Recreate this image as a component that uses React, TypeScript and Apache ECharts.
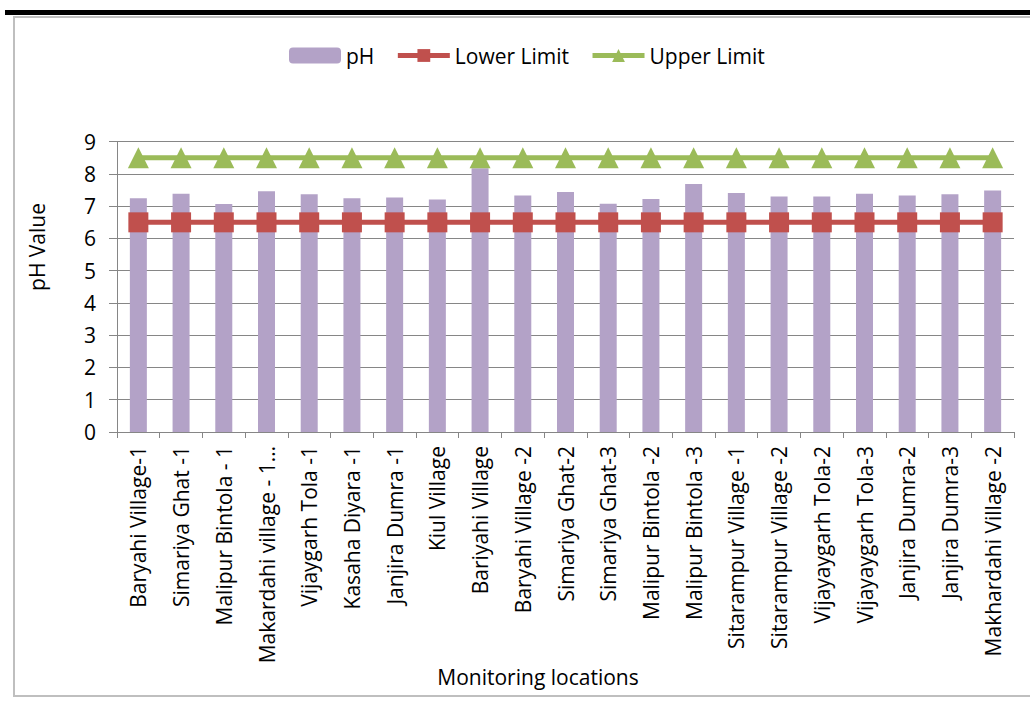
import React, { useEffect, useRef } from "react";
import * as echarts from "echarts";

const categories = [
  "Baryahi Village-1",
  "Simariya Ghat -1",
  "Malipur Bintola - 1",
  "Makardahi village - 1…",
  "Vijaygarh Tola -1",
  "Kasaha Diyara -1",
  "Janjira Dumra -1",
  "Kiul Village",
  "Bariyahi Village",
  "Baryahi Village -2",
  "Simariya Ghat-2",
  "Simariya Ghat-3",
  "Malipur Bintola -2",
  "Malipur Bintola -3",
  "Sitarampur Village -1",
  "Sitarampur Village -2",
  "Vijayaygarh Tola-2",
  "Vijayaygarh Tola-3",
  "Janjira Dumra-2",
  "Janjira Dumra-3",
  "Makhardahi Village -2",
];

const phValues = [
  7.25, 7.39, 7.07, 7.46, 7.37, 7.25, 7.27, 7.21, 8.18, 7.33, 7.44, 7.08, 7.22,
  7.69, 7.41, 7.3, 7.3, 7.39, 7.33, 7.37, 7.49,
];

const lowerLimit = categories.map(() => 6.5);
const upperLimit = categories.map(() => 8.5);

const yTicks = { min: 0, max: 9, interval: 1 };

const FONT = "'Open Sans', sans-serif";
const FS = 21;

export default function App() {
  const ref = useRef<HTMLDivElement>(null);

  useEffect(() => {
    document.body.style.margin = "0";
    if (!ref.current) return;
    const chart = echarts.init(ref.current, undefined, { renderer: "svg" });
    chart.setOption({
      animation: false,
      backgroundColor: "#ffffff",
      textStyle: { fontFamily: FONT, color: "#000" },
      graphic: [
        {
          type: "rect",
          shape: { x: 5, y: 10, width: 1030, height: 5 },
          style: { fill: "#000000" },
          silent: true,
        },
        {
          type: "rect",
          shape: { x: 14, y: 17, width: 1030, height: 679 },
          style: { fill: "none", stroke: "#BFBFBF", lineWidth: 2 },
          silent: true,
        },
        {
          type: "text",
          x: 37,
          y: 247,
          rotation: Math.PI / 2,
          style: {
            text: "pH Value",
            font: `${FS}px ${FONT}`,
            fill: "#000",
            align: "center",
            verticalAlign: "middle",
          },
          silent: true,
        },
        {
          type: "text",
          x: 538,
          y: 677,
          style: {
            text: "Monitoring locations",
            font: `${FS}px ${FONT}`,
            fill: "#000",
            align: "center",
            verticalAlign: "middle",
          },
          silent: true,
        },
      ],
      legend: {
        top: 40,
        left: 284,
        itemGap: 21,
        itemWidth: 52,
        itemHeight: 16,
        textStyle: { fontFamily: FONT, fontSize: FS, color: "#000" },
        data: [
          { name: "pH" },
          { name: "Lower Limit", lineStyle: { width: 5 } },
          { name: "Upper Limit", lineStyle: { width: 5 } },
        ],
      },
      grid: { left: 117, right: 16, top: 141.7, bottom: 270, containLabel: false },
      xAxis: {
        type: "category",
        data: categories,
        axisLine: { lineStyle: { color: "#868686", width: 1 } },
        axisTick: { show: true, length: 6, lineStyle: { color: "#868686" } },
        axisLabel: {
          rotate: 90,
          interval: 0,
          fontSize: FS,
          fontFamily: FONT,
          color: "#000",
          margin: 14,
        },
      },
      yAxis: {
        type: "value",
        min: yTicks.min,
        max: yTicks.max,
        interval: yTicks.interval,
        axisLine: { show: true, lineStyle: { color: "#868686", width: 1 } },
        axisTick: { show: true, length: 8, lineStyle: { color: "#868686" } },
        splitLine: { show: true, lineStyle: { color: "#868686", width: 1 } },
        axisLabel: { fontSize: FS, fontFamily: FONT, color: "#000", margin: 21 },
      },
      series: [
        {
          name: "pH",
          type: "bar",
          data: phValues,
          barWidth: 17,
          itemStyle: { color: "#B3A2C7" },
          z: 1,
        },
        {
          name: "Lower Limit",
          type: "line",
          data: lowerLimit,
          symbol: "rect",
          symbolSize: 20,
          lineStyle: { color: "#C0504D", width: 5 },
          itemStyle: { color: "#C0504D" },
          z: 3,
        },
        {
          name: "Upper Limit",
          type: "line",
          data: upperLimit,
          symbol: "triangle",
          symbolSize: 21,
          lineStyle: { color: "#9BBB59", width: 5 },
          itemStyle: { color: "#9BBB59" },
          z: 3,
        },
      ],
    });
    return () => chart.dispose();
  }, []);

  return <div ref={ref} style={{ width: 1030, height: 702 }} />;
}
